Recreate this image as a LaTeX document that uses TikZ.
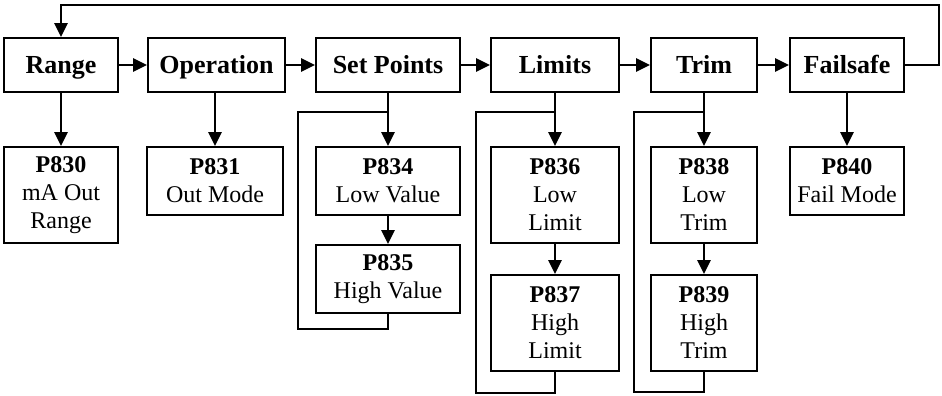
\documentclass[tikz,border=0pt]{standalone}
\usepackage{fontspec}
\setmainfont{Liberation Serif}
\usetikzlibrary{arrows.meta}

\tikzstyle{menu} = [draw, line width=1.5pt, inner sep=0pt, minimum height=40.5pt, text height=12.8pt, text depth=0pt, font=\fontsize{19.5}{22}\selectfont\bfseries]
\tikzstyle{param} = [draw, line width=1.5pt, inner sep=0pt, align=center, font=\fontsize{18}{21}\selectfont]
\tikzstyle{flow} = [line width=1.5pt, -{Triangle[length=10.5pt,width=10pt]}]
\tikzstyle{loop} = [line width=1.5pt]

\begin{document}
\begin{tikzpicture}[x=0.75pt, y=-0.75pt]
\useasboundingbox (0,0) rectangle (942,396);
%begin menu row
\node[menu, minimum width=85.5pt] (range) at (61,65) {Range};
\node[menu, minimum width=102.75pt] (operation) at (216.5,65) {Operation};
\node[menu, minimum width=108pt] (setpoints) at (388,65) {Set Points};
\node[menu, minimum width=96pt] (limits) at (555,65) {Limits};
\node[menu, minimum width=79.5pt] (trim) at (704,65) {Trim};
\node[menu, minimum width=85.5pt] (failsafe) at (847,65) {Failsafe};
%end menu row
%begin parameters
\node[param, minimum width=85.5pt, minimum height=72pt] (p830) at (61,195) {\textbf{P830}\\mA Out\\Range};
\node[param, minimum width=102pt, minimum height=51pt] (p831) at (215,181) {\textbf{P831}\\Out Mode};
\node[param, minimum width=108pt, minimum height=51pt] (p834) at (388,181) {\textbf{P834}\\Low Value};
\node[param, minimum width=108pt, minimum height=51pt] (p835) at (388,279) {\textbf{P835}\\High Value};
\node[param, minimum width=96pt, minimum height=72pt] (p836) at (555,195) {\textbf{P836}\\Low\\Limit};
\node[param, minimum width=96pt, minimum height=72pt] (p837) at (555,323) {\textbf{P837}\\High\\Limit};
\node[param, minimum width=79.5pt, minimum height=72pt] (p838) at (704,195) {\textbf{P838}\\Low\\Trim};
\node[param, minimum width=79.5pt, minimum height=72pt] (p839) at (704,323) {\textbf{P839}\\High\\Trim};
\node[param, minimum width=85.5pt, minimum height=51pt] (p840) at (847,181) {\textbf{P840}\\Fail Mode};
%end parameters
%begin menu arrows
\draw[flow] (range) -- (operation);
\draw[flow] (operation) -- (setpoints);
\draw[flow] (setpoints) -- (limits);
\draw[flow] (limits) -- (trim);
\draw[flow] (trim) -- (failsafe);
%end menu arrows
%begin return to range
\coordinate (backR) at (939,5);
\coordinate (backL) at (61,5);
\draw[flow] (failsafe.east) -| (backR) -- (backL) -- (range.north);
%end return to range
%begin down arrows
\draw[flow] (range) -- (p830);
\draw[flow] (operation.south -| p831.north) -- (p831);
\draw[flow] (setpoints) -- (p834);
\draw[flow] (p834) -- (p835);
\draw[flow] (limits) -- (p836);
\draw[flow] (p836) -- (p837);
\draw[flow] (trim) -- (p838);
\draw[flow] (p838) -- (p839);
\draw[flow] (failsafe) -- (p840);
%end down arrows
%begin loops
\coordinate (spTop) at (298,112);
\coordinate (spBot) at (298,329);
\draw[loop] (p835.south) |- (spBot) -- (spTop) -| (setpoints.south);
\coordinate (liTop) at (476,112);
\coordinate (liBot) at (476,393);
\draw[loop] (p837.south) |- (liBot) -- (liTop) -| (limits.south);
\coordinate (trTop) at (634,112);
\coordinate (trBot) at (634,392);
\draw[loop] (p839.south) |- (trBot) -- (trTop) -| (trim.south);
%end loops
\end{tikzpicture}
\end{document}
